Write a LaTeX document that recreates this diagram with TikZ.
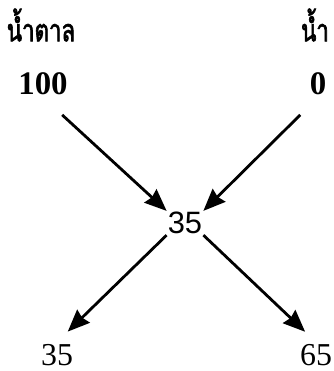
\documentclass[tikz,border=0pt]{standalone}
\usepackage{fontspec}
\setmainfont{Liberation Serif}
\newfontfamily\thaifont[Script=Thai,FakeStretch=0.72,FakeBold=2]{Loma}
\newfontfamily\digitsans{Liberation Sans}
\usetikzlibrary{arrows.meta}
\begin{document}
\begin{tikzpicture}[x=1bp,y=-1bp,
    heading/.style={font=\thaifont\fontsize{31}{33}\selectfont},
    amount/.style={font=\bfseries\fontsize{33}{35}\selectfont,inner sep=2bp},
    result/.style={font=\fontsize{32}{34}\selectfont,inner sep=2bp},
    mixture/.style={font=\digitsans\fontsize{31}{33}\selectfont,inner sep=1bp},
    flow/.style={line width=2.8bp,-{Stealth[length=22bp,width=18bp,inset=2bp]}}]
  \useasboundingbox (0,0) rectangle (334,371);
  \node[heading] (sugar) at (41,25) {น้ำตาล};
  \node[heading] (water) at (315,25) {น้ำ};
  \node[amount] (n100) at (43,84) {100};
  \node[amount] (n0) at (318,84) {0};
  \node[mixture] (mix) at (185,223) {35};
  \node[result] (out1) at (57,355) {35};
  \node[result] (out2) at (316,355) {65};
  \draw[flow,shorten <=26bp] (n100.south) -- (mix.north west);
  \draw[flow,shorten <=25bp] (n0.south) -- (mix.north east);
  \draw[flow,shorten >=15bp] (mix.south west) -- (out1.north);
  \draw[flow,shorten >=15bp] (mix.south east) -- (out2.north);
\end{tikzpicture}
\end{document}
